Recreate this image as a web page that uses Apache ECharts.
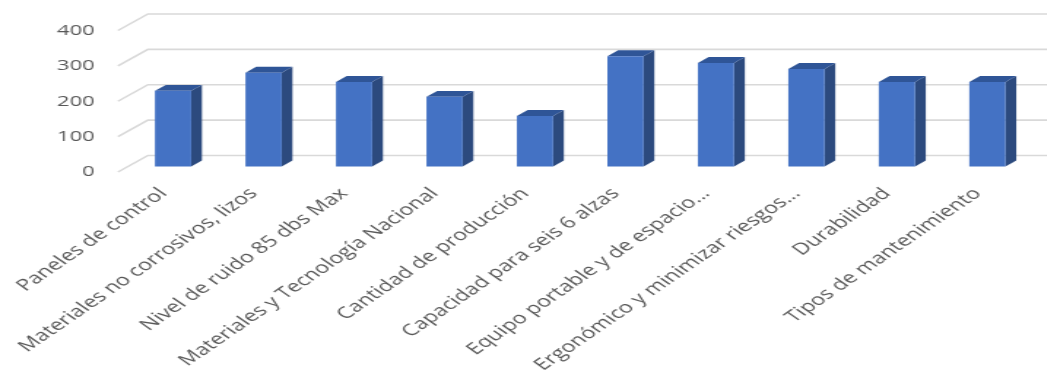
<!DOCTYPE html>
<html>
<head>
<meta charset="utf-8">
<script src="https://cdn.jsdelivr.net/npm/echarts@6/dist/echarts.min.js"></script>
<style>
html,body{margin:0;padding:0;overflow:hidden;background:#fff;width:1047px;height:382px;}
#c{width:717px;height:382px;transform:scaleX(1.46);transform-origin:0 0;}
</style>
</head>
<body>
<div id="c"></div>
<script>
const categories = [
  "Paneles de control",
  "Materiales no corrosivos, lizos",
  "Nivel de ruido 85 dbs Max",
  "Materiales y Tecnología Nacional",
  "Cantidad de producción",
  "Capacidad para seis 6 alzas",
  "Equipo portable y de espacio...",
  "Ergonómico y minimizar riesgos...",
  "Durabilidad",
  "Tipos de mantenimiento"
];
const values = [214, 265, 239, 197, 143, 312, 293, 276, 239, 239];
const yTicks = [0, 100, 200, 300, 400];

const DX = 20.5, DY = -16.5;     // full floor depth (unstretched px)
const F0 = 0.33, F1 = 0.69;      // bar depth range
const BAR = 0.40;                 // bar width as share of band
const FRONT = '#4472C4', SIDE = '#2C4A7E', TOP = '#2F5597';

const chart = echarts.init(document.getElementById('c'), null, {renderer: 'canvas'});

const option = {
  animation: false,
  backgroundColor: '#ffffff',
  grid: {left: 80.8, right: 16.5, top: 30.5, bottom: 210},
  xAxis: {
    type: 'category',
    data: categories,
    axisLine: {show: false},
    axisTick: {show: false},
    splitLine: {show: false},
    axisLabel: {
      interval: 0, rotate: 45, margin: 19,
      color: '#595959', fontSize: 16, fontFamily: 'Open Sans'
    }
  },
  yAxis: {
    type: 'value', min: 0, max: 400, interval: 100,
    axisLine: {show: false}, axisTick: {show: false}, splitLine: {show: false},
    axisLabel: {margin: 16, color: '#595959', fontSize: 15, fontFamily: 'Open Sans'}
  },
  series: [
    {
      type: 'custom',
      silent: true,
      z: 1,
      data: yTicks.map(v => [0, v]),
      encode: {x: 0, y: 1},
      renderItem: function (params, api) {
        const cs = params.coordSys;
        const y = api.coord([0, api.value(1)])[1];
        const x0 = cs.x;
        return {
          type: 'polyline',
          shape: {points: [[x0, y], [x0 + DX, y + DY], [api.getWidth() + 5, y + DY]]},
          style: {stroke: '#D9D9D9', lineWidth: 1.6, fill: null}
        };
      }
    },
    {
      type: 'custom',
      z: 3,
      data: values.map((v, i) => [i, v]),
      encode: {x: 0, y: 1},
      renderItem: function (params, api) {
        const i = api.value(0), v = api.value(1);
        const base = api.coord([i, 0]);
        const top = api.coord([i, v]);
        const w = api.size([1, 0])[0] * BAR;
        const xl = base[0] - w / 2, xr = base[0] + w / 2;
        const yb = base[1], yt = top[1];
        const ax = F0 * DX, ay = F0 * DY, bx = F1 * DX, by = F1 * DY;
        return {
          type: 'group',
          children: [
            {type: 'polygon', shape: {points: [[xr + ax, yt + ay], [xr + bx, yt + by], [xr + bx, yb + by], [xr + ax, yb + ay]]}, style: {fill: SIDE}},
            {type: 'polygon', shape: {points: [[xl + ax, yt + ay], [xr + ax, yt + ay], [xr + bx, yt + by], [xl + bx, yt + by]]}, style: {fill: TOP}},
            {type: 'rect', shape: {x: xl + ax, y: yt + ay, width: w, height: yb - yt}, style: {fill: FRONT}}
          ]
        };
      }
    }
  ]
};
chart.setOption(option);
</script>
</body>
</html>
